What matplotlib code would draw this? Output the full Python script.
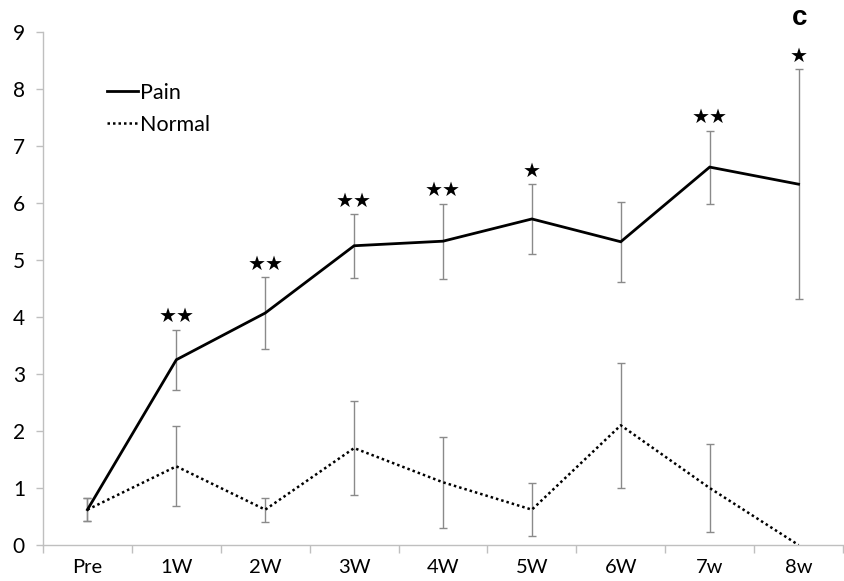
import matplotlib
matplotlib.use("Agg")
import matplotlib.pyplot as plt
import numpy as np
from matplotlib.lines import Line2D

categories = ["Pre", "1W", "2W", "3W", "4W", "5W", "6W", "7w", "8w"]
pain_mean = [0.62, 3.25, 4.07, 5.25, 5.33, 5.72, 5.32, 6.63, 6.33]
pain_err = [0.20, 0.53, 0.63, 0.56, 0.66, 0.61, 0.70, 0.64, 2.02]
normal_mean = [0.62, 1.38, 0.62, 1.70, 1.10, 0.62, 2.10, 1.00, 0.00]
normal_err = [0.20, 0.70, 0.21, 0.82, 0.80, 0.46, 1.10, 0.77, 0.00]
stars = ["", "★★", "★★", "★★", "★★", "★", "", "★★", "★"]

plt.rcParams['font.family'] = ['Lato', 'DejaVu Sans']

fig = plt.figure(figsize=(8.45, 5.81), dpi=100)
ax = fig.add_axes([43/845, (581-545)/581, 800/845, 513/581])

x = np.arange(len(categories))
grey = "#8a8a8a"
ax.errorbar(x, pain_mean, yerr=pain_err, fmt='none', ecolor=grey, elinewidth=1.0,
            capsize=3, capthick=1.0, zorder=2)
nx = [i for i in x if normal_err[i] > 0]
ax.errorbar(nx, [normal_mean[i] for i in nx], yerr=[normal_err[i] for i in nx], fmt='none',
            ecolor=grey, elinewidth=1.0, capsize=3, capthick=1.0, zorder=2)
ax.plot(x, pain_mean, color='black', lw=2.0, solid_joinstyle='miter', zorder=3)
ax.plot(x, normal_mean, color='black', lw=1.8, linestyle=(0, (1, 1.2)), zorder=3)

for i, s in enumerate(stars):
    if s:
        ax.text(x[i], pain_mean[i] + pain_err[i] + 0.06, s, ha='center', va='bottom',
                fontsize=14.5, family=['DejaVu Sans'], color='black')

ax.set_xlim(-0.5, 8.5)
ax.set_ylim(0, 9)
ax.set_yticks(range(0, 10))
ax.set_xticks(x)
ax.set_xticklabels(categories)
ax.set_xticks(np.arange(-0.5, 9.0, 1.0), minor=True)
ax.tick_params(axis='x', which='major', length=0, pad=10, labelsize=14.5)
ax.tick_params(axis='x', which='minor', length=6, color='#bfbfbf', width=1)
ax.tick_params(axis='y', length=5, color='#bfbfbf', width=1, labelsize=15, pad=8)
for s in ['top', 'right']:
    ax.spines[s].set_visible(False)
for s in ['left', 'bottom']:
    ax.spines[s].set_color('#bfbfbf')
    ax.spines[s].set_linewidth(1)

handles = [Line2D([], [], color='black', lw=2.0),
           Line2D([], [], color='black', lw=1.8, linestyle=(0, (1, 1.2)))]
leg = ax.legend(handles, ["Pain", "Normal"], loc='upper left', bbox_to_anchor=(0.069, 0.918),
                frameon=False, fontsize=15.5, handlelength=1.45, handletextpad=0.1,
                labelspacing=0.55, borderaxespad=0)

fig.text(800/845, 1 - 18/581, "c", ha='center', va='center', fontsize=20,
         fontweight='bold', family=['Liberation Sans'])

fig.savefig("out.png", dpi=100)
